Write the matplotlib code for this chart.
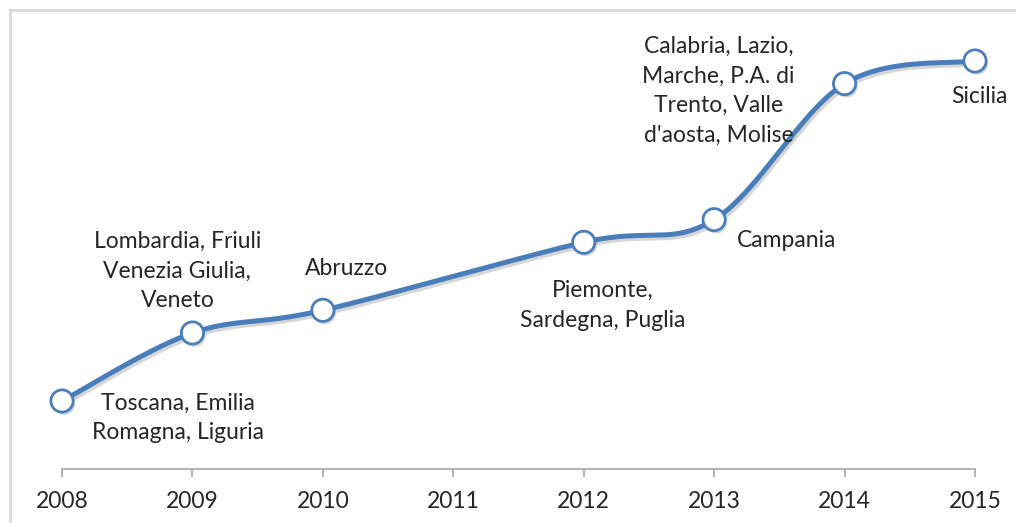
"""
Smoothed timeline of regions (cumulative count per year), Excel-style.
"""

import numpy as np
import matplotlib.pyplot as plt
import matplotlib.patheffects as pe
from matplotlib.lines import Line2D

# data: cumulative number of regions by year
years = [2008, 2009, 2010, 2012, 2013, 2014, 2015]
counts = [3, 6, 7, 10, 11, 17, 18]
labels = [
    "Toscana, Emilia\nRomagna, Liguria",
    "Lombardia, Friuli\nVenezia Giulia,\nVeneto",
    "Abruzzo",
    "Piemonte,\nSardegna, Puglia",
    "Campania",
    "Calabria, Lazio,\nMarche, P.A. di\nTrento, Valle\nd'aosta, Molise",
    "Sicilia",
]
tick_years = list(range(2008, 2016))

# label offsets in pixels from each point
label_offsets = [(116, -17), (-15, 62), (24, 42), (19, -63),
                 (72, -21), (-126, -7), (4, -36)]

LINE_COLOR = "#4A7EBB"
TEXT_COLOR = "#262626"
AXIS_COLOR = "#A6A6A6"


def bezier_smooth(x, y, n=60):
    """Excel-like smoothing: cubic Bezier pieces with Catmull-Rom controls."""
    pts = np.column_stack([x, y]).astype(float)
    ext = np.vstack([pts[0], pts, pts[-1]])
    out = []
    t = np.linspace(0, 1, n)[:, None]
    for i in range(1, len(ext) - 2):
        p0, p1, p2, p3 = ext[i - 1], ext[i], ext[i + 1], ext[i + 2]
        c1 = p1 + (p2 - p0) / 6.0
        c2 = p2 - (p3 - p1) / 6.0
        seg = ((1 - t) ** 3) * p1 + 3 * ((1 - t) ** 2) * t * c1 \
            + 3 * (1 - t) * t ** 2 * c2 + t ** 3 * p2
        out.append(seg if i == 1 else seg[1:])
    seg = np.vstack(out)
    return seg[:, 0], seg[:, 1]


def main():
    plt.rcParams["font.family"] = ["Lato", "DejaVu Sans"]

    fig = plt.figure(figsize=(10.16, 5.23), dpi=100)
    W, H = 1016, 523

    # chart frame (only top and left edges visible in the crop)
    fig.add_artist(Line2D([10 / W, 1.0], [1 - 10 / H, 1 - 10 / H],
                          transform=fig.transFigure, color="#D9D9D9", lw=2))
    fig.add_artist(Line2D([10 / W, 10 / W], [0, 1 - 10 / H],
                          transform=fig.transFigure, color="#D9D9D9", lw=2))

    left, right = 62 / W, 975 / W
    bottom, top = (H - 469) / H, (H - 15.6) / H
    ax = fig.add_axes([left, bottom, right - left, top - bottom])
    ax.set_xlim(2008, 2015)
    ax.set_ylim(0, 20)

    sx, sy = bezier_smooth(years, counts)
    shadow = [pe.SimpleLineShadow(offset=(1.5, -2), shadow_color="#8c8c8c",
                                  alpha=0.35), pe.Normal()]
    ax.plot(sx, sy, color=LINE_COLOR, lw=3.6, solid_capstyle="round",
            path_effects=shadow, clip_on=False, zorder=3)
    ax.plot(years, counts, linestyle="none", marker="o", markersize=16,
            markerfacecolor="white", markeredgecolor=LINE_COLOR,
            markeredgewidth=2.0, clip_on=False, zorder=4,
            path_effects=[pe.SimplePatchShadow(offset=(1.5, -2),
                                               shadow_rgbFace="#8c8c8c",
                                               alpha=0.35), pe.Normal()])

    for xv, yv, txt, off in zip(years, counts, labels, label_offsets):
        ax.annotate(txt, (xv, yv), xytext=off, textcoords="offset pixels",
                    ha="center", va="center", fontsize=16.5,
                    color=TEXT_COLOR, linespacing=1.5, zorder=5)

    for side in ["left", "right", "top"]:
        ax.spines[side].set_visible(False)
    ax.spines["bottom"].set_color(AXIS_COLOR)
    ax.spines["bottom"].set_linewidth(1.2)
    ax.set_yticks([])
    ax.set_xticks(tick_years)
    ax.set_xticklabels([str(y) for y in tick_years])
    ax.tick_params(axis="x", direction="out", length=6, width=1.2,
                   color=AXIS_COLOR, labelsize=16.5, labelcolor=TEXT_COLOR,
                   pad=10)
    ax.patch.set_visible(False)

    fig.savefig("out.png", dpi=100)
    plt.close(fig)


if __name__ == "__main__":
    main()
